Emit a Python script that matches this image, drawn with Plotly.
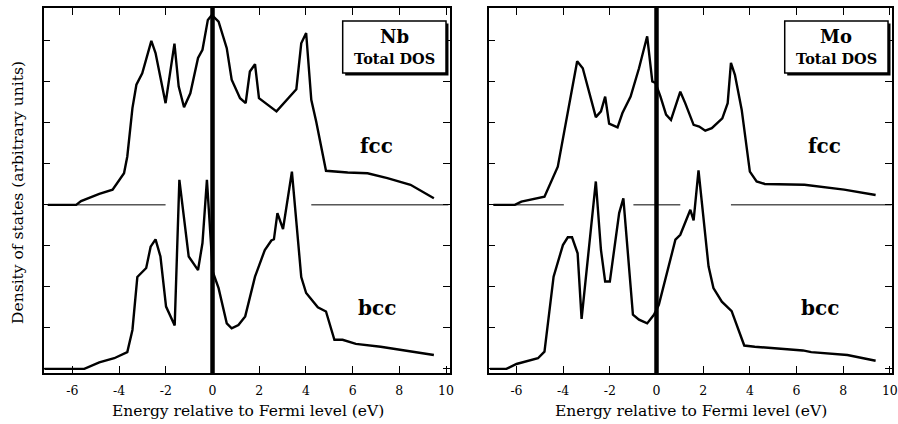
import plotly.graph_objects as go

# ---------------- data ----------------
tick_vals = [-6, -4, -2, 0, 2, 4, 6, 8, 10]
tick_text = ["-6", "-4", "-2", "0", "2", "4", "6", "8", "10"]
y_tick_vals = [0, 1, 2, 3, 4, 5, 6, 7, 8]

nb_fcc_E = [-7.05, -5.84, -5.63, -4.85, -4.28, -3.79, -3.65, -3.43, -3.26, -3.01,
            -2.62, -2.44, -2.01, -1.63, -1.45, -1.22, -0.95, -0.62, -0.43, -0.2,
            -0.03, 0.26, 0.61, 0.82, 1.18, 1.42, 1.6, 1.82, 1.99, 2.74,
            3.59, 3.8, 4.01, 4.23, 4.44, 4.86, 5.79, 6.64, 7.49, 8.48, 9.48]
nb_fcc_D = [4.0, 4.0, 4.09, 4.27, 4.37, 4.77, 5.18, 6.36, 6.93, 7.21,
            8.0, 7.7, 6.48, 7.93, 6.89, 6.38, 6.72, 7.58, 7.78, 8.51,
            8.63, 8.47, 7.82, 7.05, 6.6, 6.48, 7.25, 7.43, 6.6, 6.28,
            6.82, 7.94, 8.19, 6.56, 6.03, 4.83, 4.79, 4.77, 4.65, 4.49, 4.16]

nb_bcc_E = [-7.2, -5.49, -4.85, -4.21, -3.65, -3.43, -3.22, -2.84, -2.65, -2.44,
            -2.23, -1.99, -1.62, -1.42, -1.02, -0.62, -0.43, -0.24, 0.01, 0.26,
            0.61, 0.82, 1.11, 1.4, 1.82, 2.24, 2.52, 2.63, 2.78, 3.02,
            3.4, 3.8, 4.01, 4.51, 4.86, 5.22, 5.57, 6.14, 7.2, 8.63, 9.48]
nb_bcc_D = [0.0, 0.0, 0.16, 0.26, 0.41, 0.95, 2.24, 2.46, 2.98, 3.16,
            2.74, 1.52, 1.06, 4.61, 2.74, 2.41, 3.07, 4.61, 2.37, 1.97,
            1.11, 0.99, 1.07, 1.28, 2.25, 2.9, 3.13, 3.16, 3.8, 3.41,
            4.81, 2.24, 1.85, 1.5, 1.4, 0.71, 0.71, 0.61, 0.54, 0.42, 0.34]

mo_fcc_E = [-6.99, -6.07, -5.79, -4.8, -4.23, -3.94, -3.4, -3.16, -2.6, -2.38,
            -2.2, -2.03, -1.67, -1.46, -1.11, -0.75, -0.4, -0.18, -0.04, 0.17,
            0.41, 0.62, 1.02, 1.23, 1.59, 1.83, 2.09, 2.37, 2.82, 3.05,
            3.19, 3.36, 3.65, 4.0, 4.29, 4.64, 6.34, 8.04, 9.39]
mo_fcc_D = [4.0, 4.0, 4.08, 4.2, 4.93, 5.83, 7.5, 7.33, 6.14, 6.28,
            6.64, 5.98, 5.89, 6.24, 6.64, 7.33, 8.11, 7.01, 6.97, 6.64,
            6.2, 6.07, 6.76, 6.48, 5.95, 5.91, 5.81, 5.87, 6.11, 6.48,
            7.46, 7.17, 6.32, 4.81, 4.57, 4.51, 4.49, 4.37, 4.24]

mo_bcc_E = [-7.14, -6.43, -6.0, -5.08, -4.8, -4.41, -4.01, -3.8, -3.62, -3.38,
            -3.21, -2.88, -2.6, -2.38, -2.2, -2.0, -1.6, -1.42, -1.01, -0.75,
            -0.4, -0.11, 0.1, 0.81, 1.02, 1.45, 1.59, 1.8, 2.23, 2.44,
            2.8, 3.22, 3.5, 3.76, 4.21, 5.21, 6.27, 6.63, 8.18, 9.39]
mo_bcc_D = [0.0, 0.0, 0.12, 0.26, 0.42, 2.25, 3.02, 3.21, 3.21, 2.82,
            1.22, 2.98, 4.57, 2.9, 2.13, 2.13, 3.8, 4.16, 1.32, 1.2,
            1.11, 1.32, 1.56, 3.15, 3.27, 3.88, 3.62, 4.84, 2.5, 1.97,
            1.64, 1.41, 0.95, 0.57, 0.54, 0.49, 0.45, 0.41, 0.34, 0.2]

# thin reference line at the fcc offset (drawn in broken pieces)
base_level = 4.0
nb_base_E = [-7.08, -2.01, None, 4.23, 10.1]
mo_base_E = [-6.99, -3.97, None, -0.99, 1.02, None, 3.19, 10.1]
fermi_E = 0.0

# ---------------- figure ----------------
W, H = 898, 424
ML, MR, MT, MB = 0, 0, 8, 51
PH = H - MT - MB
SERIF = "DejaVu Serif"


def pxx(x):
    return x / W


def pxy(y):
    return (H - MB - y) / PH


fig = go.Figure()

panels = [
    ("x", "y", nb_fcc_E, nb_fcc_D, nb_bcc_E, nb_bcc_D, nb_base_E),
    ("x2", "y2", mo_fcc_E, mo_fcc_D, mo_bcc_E, mo_bcc_D, mo_base_E),
]
for xa, ya, fE, fD, bE, bD, baseE in panels:
    fig.add_trace(go.Scatter(x=baseE, y=[None if v is None else base_level for v in baseE],
                             mode="lines", line=dict(color="black", width=1),
                             xaxis=xa, yaxis=ya, showlegend=False, hoverinfo="skip"))
    fig.add_trace(go.Scatter(x=fE, y=fD, mode="lines", line=dict(color="black", width=2.4),
                             xaxis=xa, yaxis=ya, showlegend=False, name="fcc"))
    fig.add_trace(go.Scatter(x=bE, y=bD, mode="lines", line=dict(color="black", width=2.4),
                             xaxis=xa, yaxis=ya, showlegend=False, name="bcc"))
    # Fermi level
    fig.add_shape(type="line", xref=xa, yref=ya + " domain", x0=fermi_E, x1=fermi_E,
                  y0=0, y1=1, line=dict(color="black", width=4.5), layer="above")

axis_common = dict(
    showline=True, linecolor="black", linewidth=1.5, mirror="ticks",
    ticks="inside", ticklen=7, tickwidth=1.2, tickcolor="black",
    showgrid=False, zeroline=False,
)
xaxis_extra = dict(ticklabeloverflow="allow", ticklabelstandoff=5,
                   tickfont=dict(family=SERIF, size=12.5, color="black"))
fig.update_layout(
    width=W, height=H,
    margin=dict(l=ML, r=MR, t=MT, b=MB),
    paper_bgcolor="white", plot_bgcolor="white",
    font=dict(family=SERIF, color="black", size=13),
    xaxis=dict(domain=[44 / W, 453 / W], range=[-7.23, 10.17], tickvals=tick_vals,
               ticktext=tick_text, anchor="y", **xaxis_extra, **axis_common),
    yaxis=dict(domain=[0, 1], range=[-0.1, 8.8], tickvals=y_tick_vals,
               showticklabels=False, anchor="x", **axis_common),
    xaxis2=dict(domain=[492 / W, 897.5 / W], range=[-7.19, 10.07], tickvals=tick_vals,
                ticktext=tick_text, anchor="y2", **xaxis_extra, **axis_common),
    yaxis2=dict(domain=[0, 1], range=[-0.1, 8.8], tickvals=y_tick_vals,
                showticklabels=False, anchor="x2", **axis_common),
)

annotations = []


def ann(text, x, y, size, angle=0):
    return dict(text=text, xref="paper", yref="paper", x=pxx(x), y=pxy(y),
                xanchor="center", yanchor="middle", textangle=angle, showarrow=False,
                font=dict(size=size, family=SERIF, color="black"))


# axis titles
annotations.append(ann("Density of states (arbitrary units)", 18, 192, 15.5, -90))
for cx in (250, 696):
    annotations.append(ann("Energy relative to Fermi level (eV)", cx, 411, 15.5))
# structure labels
for (cx, cy, t) in [(379, 146, "fcc"), (380, 308, "bcc"), (830, 146, "fcc"), (826, 308, "bcc")]:
    annotations.append(ann("<b>" + t + "</b>", cx, cy, 20))

# element boxes
shapes = []
for (x0, name) in [(345, "Nb"), (790, "Mo")]:
    x1 = x0 + 104
    y0, y1 = 21, 73
    shapes.append(dict(type="rect", xref="paper", yref="paper",
                       x0=pxx(x0 + 2.5), x1=pxx(x1 + 2.5), y0=pxy(y1 + 2.5), y1=pxy(y0 + 2.5),
                       fillcolor="black", line=dict(width=0), layer="above"))
    shapes.append(dict(type="rect", xref="paper", yref="paper",
                       x0=pxx(x0), x1=pxx(x1), y0=pxy(y1), y1=pxy(y0),
                       fillcolor="white", line=dict(color="black", width=1.5), layer="above"))
    cx = (x0 + x1) / 2
    annotations.append(ann("<b>" + name + "</b>", cx, 36, 18))
    annotations.append(ann("<b>Total DOS</b>", cx, 59, 14.5))

fig.update_layout(annotations=annotations)
for s in shapes:
    fig.add_shape(**s)

fig.write_html("out.html")
